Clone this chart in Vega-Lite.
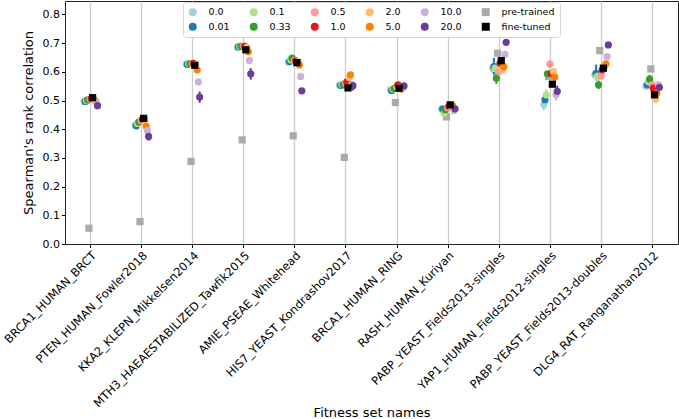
{
  "$schema": "https://vega.github.io/schema/vega-lite/v6.json",
  "width": 613,
  "height": 243,
  "autosize": {"type": "none"},
  "padding": {"left": 65, "top": 1, "right": 1, "bottom": 175},
  "config": {
    "font": "DejaVu Sans",
    "view": {"stroke": "#222", "strokeWidth": 1},
    "axis": {"labelFont": "DejaVu Sans", "titleFont": "DejaVu Sans", "labelFontSize": 11, "titleFontSize": 13, "titleFontWeight": "normal", "labelColor": "#000", "titleColor": "#000", "tickColor": "#000", "tickSize": 3.5, "domain": false, "labelLimit": 400},
    "legend": {"labelFont": "DejaVu Sans", "labelFontSize": 9.5, "labelColor": "#000"}
  },
  "data": {"values": [
    {"s":"BRCA1_HUMAN_BRCT","l":"pre-trained","v":0.055},
    {"s":"BRCA1_HUMAN_BRCT","l":"0.0","v":0.497,"lo":0.492,"hi":0.502},
    {"s":"BRCA1_HUMAN_BRCT","l":"0.01","v":0.497,"lo":0.492,"hi":0.502},
    {"s":"BRCA1_HUMAN_BRCT","l":"0.1","v":0.500,"lo":0.495,"hi":0.505},
    {"s":"BRCA1_HUMAN_BRCT","l":"0.33","v":0.502,"lo":0.497,"hi":0.507},
    {"s":"BRCA1_HUMAN_BRCT","l":"0.5","v":0.505,"lo":0.500,"hi":0.510},
    {"s":"BRCA1_HUMAN_BRCT","l":"1.0","v":0.507,"lo":0.502,"hi":0.512},
    {"s":"BRCA1_HUMAN_BRCT","l":"2.0","v":0.506,"lo":0.501,"hi":0.511},
    {"s":"BRCA1_HUMAN_BRCT","l":"5.0","v":0.500,"lo":0.495,"hi":0.505},
    {"s":"BRCA1_HUMAN_BRCT","l":"10.0","v":0.495,"lo":0.490,"hi":0.500},
    {"s":"BRCA1_HUMAN_BRCT","l":"20.0","v":0.482,"lo":0.474,"hi":0.490},
    {"s":"BRCA1_HUMAN_BRCT","l":"fine-tuned","v":0.510},

    {"s":"PTEN_HUMAN_Fowler2018","l":"pre-trained","v":0.078},
    {"s":"PTEN_HUMAN_Fowler2018","l":"0.0","v":0.415,"lo":0.410,"hi":0.420},
    {"s":"PTEN_HUMAN_Fowler2018","l":"0.01","v":0.412,"lo":0.407,"hi":0.417},
    {"s":"PTEN_HUMAN_Fowler2018","l":"0.1","v":0.420,"lo":0.415,"hi":0.425},
    {"s":"PTEN_HUMAN_Fowler2018","l":"0.33","v":0.425,"lo":0.420,"hi":0.430},
    {"s":"PTEN_HUMAN_Fowler2018","l":"0.5","v":0.430,"lo":0.425,"hi":0.435},
    {"s":"PTEN_HUMAN_Fowler2018","l":"1.0","v":0.435,"lo":0.430,"hi":0.440},
    {"s":"PTEN_HUMAN_Fowler2018","l":"2.0","v":0.432,"lo":0.427,"hi":0.437},
    {"s":"PTEN_HUMAN_Fowler2018","l":"5.0","v":0.410,"lo":0.405,"hi":0.415},
    {"s":"PTEN_HUMAN_Fowler2018","l":"10.0","v":0.396,"lo":0.388,"hi":0.404},
    {"s":"PTEN_HUMAN_Fowler2018","l":"20.0","v":0.375,"lo":0.360,"hi":0.390},
    {"s":"PTEN_HUMAN_Fowler2018","l":"fine-tuned","v":0.438},

    {"s":"KKA2_KLEPN_Mikkelsen2014","l":"pre-trained","v":0.288},
    {"s":"KKA2_KLEPN_Mikkelsen2014","l":"0.0","v":0.627,"lo":0.622,"hi":0.632},
    {"s":"KKA2_KLEPN_Mikkelsen2014","l":"0.01","v":0.626,"lo":0.621,"hi":0.631},
    {"s":"KKA2_KLEPN_Mikkelsen2014","l":"0.1","v":0.628,"lo":0.623,"hi":0.633},
    {"s":"KKA2_KLEPN_Mikkelsen2014","l":"0.33","v":0.629,"lo":0.624,"hi":0.634},
    {"s":"KKA2_KLEPN_Mikkelsen2014","l":"0.5","v":0.630,"lo":0.625,"hi":0.635},
    {"s":"KKA2_KLEPN_Mikkelsen2014","l":"1.0","v":0.630,"lo":0.625,"hi":0.635},
    {"s":"KKA2_KLEPN_Mikkelsen2014","l":"2.0","v":0.625,"lo":0.620,"hi":0.630},
    {"s":"KKA2_KLEPN_Mikkelsen2014","l":"5.0","v":0.607,"lo":0.602,"hi":0.612},
    {"s":"KKA2_KLEPN_Mikkelsen2014","l":"10.0","v":0.565,"lo":0.555,"hi":0.575},
    {"s":"KKA2_KLEPN_Mikkelsen2014","l":"20.0","v":0.512,"lo":0.492,"hi":0.532},
    {"s":"KKA2_KLEPN_Mikkelsen2014","l":"fine-tuned","v":0.623},

    {"s":"MTH3_HAEAESTABILIZED_Tawfik2015","l":"pre-trained","v":0.363},
    {"s":"MTH3_HAEAESTABILIZED_Tawfik2015","l":"0.0","v":0.686,"lo":0.681,"hi":0.691},
    {"s":"MTH3_HAEAESTABILIZED_Tawfik2015","l":"0.01","v":0.687,"lo":0.682,"hi":0.692},
    {"s":"MTH3_HAEAESTABILIZED_Tawfik2015","l":"0.1","v":0.688,"lo":0.683,"hi":0.693},
    {"s":"MTH3_HAEAESTABILIZED_Tawfik2015","l":"0.33","v":0.689,"lo":0.684,"hi":0.694},
    {"s":"MTH3_HAEAESTABILIZED_Tawfik2015","l":"0.5","v":0.690,"lo":0.685,"hi":0.695},
    {"s":"MTH3_HAEAESTABILIZED_Tawfik2015","l":"1.0","v":0.689,"lo":0.684,"hi":0.694},
    {"s":"MTH3_HAEAESTABILIZED_Tawfik2015","l":"2.0","v":0.685,"lo":0.680,"hi":0.690},
    {"s":"MTH3_HAEAESTABILIZED_Tawfik2015","l":"5.0","v":0.670,"lo":0.665,"hi":0.675},
    {"s":"MTH3_HAEAESTABILIZED_Tawfik2015","l":"10.0","v":0.640,"lo":0.630,"hi":0.650},
    {"s":"MTH3_HAEAESTABILIZED_Tawfik2015","l":"20.0","v":0.593,"lo":0.573,"hi":0.613},
    {"s":"MTH3_HAEAESTABILIZED_Tawfik2015","l":"fine-tuned","v":0.677},

    {"s":"AMIE_PSEAE_Whitehead","l":"pre-trained","v":0.377},
    {"s":"AMIE_PSEAE_Whitehead","l":"0.0","v":0.634,"lo":0.629,"hi":0.639},
    {"s":"AMIE_PSEAE_Whitehead","l":"0.01","v":0.636,"lo":0.631,"hi":0.641},
    {"s":"AMIE_PSEAE_Whitehead","l":"0.1","v":0.642,"lo":0.637,"hi":0.647},
    {"s":"AMIE_PSEAE_Whitehead","l":"0.33","v":0.648,"lo":0.643,"hi":0.653},
    {"s":"AMIE_PSEAE_Whitehead","l":"0.5","v":0.640,"lo":0.635,"hi":0.645},
    {"s":"AMIE_PSEAE_Whitehead","l":"1.0","v":0.638,"lo":0.633,"hi":0.643},
    {"s":"AMIE_PSEAE_Whitehead","l":"2.0","v":0.636,"lo":0.631,"hi":0.641},
    {"s":"AMIE_PSEAE_Whitehead","l":"5.0","v":0.624,"lo":0.619,"hi":0.629},
    {"s":"AMIE_PSEAE_Whitehead","l":"10.0","v":0.584,"lo":0.577,"hi":0.591},
    {"s":"AMIE_PSEAE_Whitehead","l":"20.0","v":0.534,"lo":0.528,"hi":0.540},
    {"s":"AMIE_PSEAE_Whitehead","l":"fine-tuned","v":0.632},

    {"s":"HIS7_YEAST_Kondrashov2017","l":"pre-trained","v":0.302},
    {"s":"HIS7_YEAST_Kondrashov2017","l":"0.0","v":0.553,"lo":0.548,"hi":0.558},
    {"s":"HIS7_YEAST_Kondrashov2017","l":"0.01","v":0.553,"lo":0.548,"hi":0.558},
    {"s":"HIS7_YEAST_Kondrashov2017","l":"0.1","v":0.556,"lo":0.551,"hi":0.561},
    {"s":"HIS7_YEAST_Kondrashov2017","l":"0.33","v":0.555,"lo":0.548,"hi":0.562},
    {"s":"HIS7_YEAST_Kondrashov2017","l":"0.5","v":0.560,"lo":0.555,"hi":0.565},
    {"s":"HIS7_YEAST_Kondrashov2017","l":"1.0","v":0.565,"lo":0.560,"hi":0.570},
    {"s":"HIS7_YEAST_Kondrashov2017","l":"2.0","v":0.580,"lo":0.573,"hi":0.587},
    {"s":"HIS7_YEAST_Kondrashov2017","l":"5.0","v":0.590,"lo":0.582,"hi":0.598},
    {"s":"HIS7_YEAST_Kondrashov2017","l":"10.0","v":0.556,"lo":0.548,"hi":0.564},
    {"s":"HIS7_YEAST_Kondrashov2017","l":"20.0","v":0.552,"lo":0.535,"hi":0.566},
    {"s":"HIS7_YEAST_Kondrashov2017","l":"fine-tuned","v":0.544},

    {"s":"BRCA1_HUMAN_RING","l":"pre-trained","v":0.493},
    {"s":"BRCA1_HUMAN_RING","l":"0.0","v":0.538,"lo":0.533,"hi":0.543},
    {"s":"BRCA1_HUMAN_RING","l":"0.01","v":0.535,"lo":0.530,"hi":0.540},
    {"s":"BRCA1_HUMAN_RING","l":"0.1","v":0.540,"lo":0.535,"hi":0.545},
    {"s":"BRCA1_HUMAN_RING","l":"0.33","v":0.542,"lo":0.535,"hi":0.549},
    {"s":"BRCA1_HUMAN_RING","l":"0.5","v":0.548,"lo":0.543,"hi":0.553},
    {"s":"BRCA1_HUMAN_RING","l":"1.0","v":0.555,"lo":0.550,"hi":0.560},
    {"s":"BRCA1_HUMAN_RING","l":"2.0","v":0.545,"lo":0.540,"hi":0.550},
    {"s":"BRCA1_HUMAN_RING","l":"5.0","v":0.540,"lo":0.535,"hi":0.545},
    {"s":"BRCA1_HUMAN_RING","l":"10.0","v":0.544,"lo":0.539,"hi":0.549},
    {"s":"BRCA1_HUMAN_RING","l":"20.0","v":0.551,"lo":0.546,"hi":0.556},
    {"s":"BRCA1_HUMAN_RING","l":"fine-tuned","v":0.543},

    {"s":"RASH_HUMAN_Kuriyan","l":"pre-trained","v":0.443},
    {"s":"RASH_HUMAN_Kuriyan","l":"0.0","v":0.472,"lo":0.467,"hi":0.477},
    {"s":"RASH_HUMAN_Kuriyan","l":"0.01","v":0.470,"lo":0.465,"hi":0.475},
    {"s":"RASH_HUMAN_Kuriyan","l":"0.1","v":0.456,"lo":0.450,"hi":0.462},
    {"s":"RASH_HUMAN_Kuriyan","l":"0.33","v":0.468,"lo":0.463,"hi":0.473},
    {"s":"RASH_HUMAN_Kuriyan","l":"0.5","v":0.475,"lo":0.470,"hi":0.480},
    {"s":"RASH_HUMAN_Kuriyan","l":"1.0","v":0.480,"lo":0.475,"hi":0.485},
    {"s":"RASH_HUMAN_Kuriyan","l":"2.0","v":0.478,"lo":0.473,"hi":0.483},
    {"s":"RASH_HUMAN_Kuriyan","l":"5.0","v":0.482,"lo":0.477,"hi":0.487},
    {"s":"RASH_HUMAN_Kuriyan","l":"10.0","v":0.465,"lo":0.460,"hi":0.470},
    {"s":"RASH_HUMAN_Kuriyan","l":"20.0","v":0.471,"lo":0.466,"hi":0.476},
    {"s":"RASH_HUMAN_Kuriyan","l":"fine-tuned","v":0.485},

    {"s":"PABP_YEAST_Fields2013-singles","l":"pre-trained","v":0.665},
    {"s":"PABP_YEAST_Fields2013-singles","l":"0.0","v":0.612,"lo":0.595,"hi":0.629},
    {"s":"PABP_YEAST_Fields2013-singles","l":"0.01","v":0.618,"lo":0.590,"hi":0.649},
    {"s":"PABP_YEAST_Fields2013-singles","l":"0.1","v":0.613,"lo":0.603,"hi":0.623},
    {"s":"PABP_YEAST_Fields2013-singles","l":"0.33","v":0.578,"lo":0.558,"hi":0.598},
    {"s":"PABP_YEAST_Fields2013-singles","l":"0.5","v":0.601,"lo":0.591,"hi":0.611},
    {"s":"PABP_YEAST_Fields2013-singles","l":"1.0","v":0.630,"lo":0.620,"hi":0.640},
    {"s":"PABP_YEAST_Fields2013-singles","l":"2.0","v":0.607,"lo":0.597,"hi":0.617},
    {"s":"PABP_YEAST_Fields2013-singles","l":"5.0","v":0.618,"lo":0.610,"hi":0.626},
    {"s":"PABP_YEAST_Fields2013-singles","l":"10.0","v":0.661,"lo":0.654,"hi":0.668},
    {"s":"PABP_YEAST_Fields2013-singles","l":"20.0","v":0.703,"lo":0.698,"hi":0.708},
    {"s":"PABP_YEAST_Fields2013-singles","l":"fine-tuned","v":0.639},

    {"s":"YAP1_HUMAN_Fields2012-singles","l":"pre-trained","v":0.584},
    {"s":"YAP1_HUMAN_Fields2012-singles","l":"0.0","v":0.485,"lo":0.465,"hi":0.505},
    {"s":"YAP1_HUMAN_Fields2012-singles","l":"0.01","v":0.503,"lo":0.483,"hi":0.523},
    {"s":"YAP1_HUMAN_Fields2012-singles","l":"0.1","v":0.520,"lo":0.500,"hi":0.540},
    {"s":"YAP1_HUMAN_Fields2012-singles","l":"0.33","v":0.593,"lo":0.583,"hi":0.603},
    {"s":"YAP1_HUMAN_Fields2012-singles","l":"0.5","v":0.627,"lo":0.612,"hi":0.642},
    {"s":"YAP1_HUMAN_Fields2012-singles","l":"1.0","v":0.595,"lo":0.585,"hi":0.605},
    {"s":"YAP1_HUMAN_Fields2012-singles","l":"2.0","v":0.601,"lo":0.591,"hi":0.611},
    {"s":"YAP1_HUMAN_Fields2012-singles","l":"5.0","v":0.582,"lo":0.572,"hi":0.592},
    {"s":"YAP1_HUMAN_Fields2012-singles","l":"10.0","v":0.520,"lo":0.500,"hi":0.540},
    {"s":"YAP1_HUMAN_Fields2012-singles","l":"20.0","v":0.532,"lo":0.512,"hi":0.552},
    {"s":"YAP1_HUMAN_Fields2012-singles","l":"fine-tuned","v":0.557},

    {"s":"PABP_YEAST_Fields2013-doubles","l":"pre-trained","v":0.674},
    {"s":"PABP_YEAST_Fields2013-doubles","l":"0.0","v":0.590,"lo":0.580,"hi":0.600},
    {"s":"PABP_YEAST_Fields2013-doubles","l":"0.01","v":0.595,"lo":0.570,"hi":0.625},
    {"s":"PABP_YEAST_Fields2013-doubles","l":"0.1","v":0.584,"lo":0.574,"hi":0.594},
    {"s":"PABP_YEAST_Fields2013-doubles","l":"0.33","v":0.555,"lo":0.540,"hi":0.570},
    {"s":"PABP_YEAST_Fields2013-doubles","l":"0.5","v":0.586,"lo":0.576,"hi":0.596},
    {"s":"PABP_YEAST_Fields2013-doubles","l":"1.0","v":0.607,"lo":0.597,"hi":0.617},
    {"s":"PABP_YEAST_Fields2013-doubles","l":"2.0","v":0.618,"lo":0.608,"hi":0.628},
    {"s":"PABP_YEAST_Fields2013-doubles","l":"5.0","v":0.628,"lo":0.620,"hi":0.636},
    {"s":"PABP_YEAST_Fields2013-doubles","l":"10.0","v":0.653,"lo":0.646,"hi":0.660},
    {"s":"PABP_YEAST_Fields2013-doubles","l":"20.0","v":0.694,"lo":0.689,"hi":0.699},
    {"s":"PABP_YEAST_Fields2013-doubles","l":"fine-tuned","v":0.613},

    {"s":"DLG4_RAT_Ranganathan2012","l":"pre-trained","v":0.610},
    {"s":"DLG4_RAT_Ranganathan2012","l":"0.0","v":0.550,"lo":0.545,"hi":0.555},
    {"s":"DLG4_RAT_Ranganathan2012","l":"0.01","v":0.555,"lo":0.548,"hi":0.562},
    {"s":"DLG4_RAT_Ranganathan2012","l":"0.1","v":0.566,"lo":0.559,"hi":0.573},
    {"s":"DLG4_RAT_Ranganathan2012","l":"0.33","v":0.575,"lo":0.560,"hi":0.590},
    {"s":"DLG4_RAT_Ranganathan2012","l":"0.5","v":0.555,"lo":0.548,"hi":0.562},
    {"s":"DLG4_RAT_Ranganathan2012","l":"1.0","v":0.543,"lo":0.536,"hi":0.550},
    {"s":"DLG4_RAT_Ranganathan2012","l":"2.0","v":0.505,"lo":0.490,"hi":0.520},
    {"s":"DLG4_RAT_Ranganathan2012","l":"5.0","v":0.526,"lo":0.518,"hi":0.534},
    {"s":"DLG4_RAT_Ranganathan2012","l":"10.0","v":0.555,"lo":0.545,"hi":0.565},
    {"s":"DLG4_RAT_Ranganathan2012","l":"20.0","v":0.546,"lo":0.540,"hi":0.552},
    {"s":"DLG4_RAT_Ranganathan2012","l":"fine-tuned","v":0.520}
  ]},
  "encoding": {
    "x": {"field": "s", "type": "nominal", "sort": null,
      "scale": {"type": "band", "paddingInner": 0, "paddingOuter": 0},
      "axis": {"title": "Fitness set names", "labelAngle": -45, "labelAlign": "right", "labelBaseline": "top", "labelPadding": 2, "labelFontSize": 11.5,
        "grid": true, "gridColor": "#cccccc", "gridWidth": 1.3, "bandPosition": 0.5, "titleY": 172, "titleBaseline": "alphabetic"}},
    "xOffset": {"field": "l", "type": "nominal",
      "scale": {"domain": ["0.0","0.01","0.1","0.33","pre-trained","0.5","1.0","fine-tuned","2.0","5.0","10.0","20.0"], "range": [18.4, 33.1], "paddingInner": 0, "paddingOuter": 0}},
    "color": {"field": "l", "type": "nominal",
      "scale": {"domain": ["0.0","0.1","0.5","2.0","10.0","pre-trained","0.01","0.33","1.0","5.0","20.0","fine-tuned"],
        "range": ["#a6cee3","#b2df8a","#fb9a99","#fdbf6f","#cab2d6","#aaaaaa","#1f78b4","#33a02c","#e31a1c","#ff7f00","#6a3d9a","#000000"]},
      "legend": {"title": null, "orient": "none", "legendX": 118, "legendY": 1, "columns": 6, "direction": "horizontal",
        "columnPadding": 19, "rowPadding": 4, "labelOffset": 11, "symbolSize": 64, "padding": 5,
        "strokeColor": "#d6d6d6", "fillColor": "#ffffff", "cornerRadius": 3, "symbolStrokeWidth": 0}}
  },
  "layer": [
    {
      "transform": [{"filter": "isValid(datum.lo)"}],
      "mark": {"type": "rule", "strokeWidth": 2},
      "encoding": {
        "y": {"field": "lo", "type": "quantitative",
          "scale": {"domain": [0, 0.847], "nice": false, "zero": false},
          "axis": {"title": "Spearman's rank correlation", "values": [0,0.1,0.2,0.3,0.4,0.5,0.6,0.7,0.8], "format": ".1f", "grid": false, "labelOverlap": false, "titleX": -33, "titleBaseline": "alphabetic"}},
        "y2": {"field": "hi"}
      }
    },
    {
      "mark": {"type": "point", "filled": true, "opacity": 1, "size": 52},
      "encoding": {
        "y": {"field": "v", "type": "quantitative",
          "scale": {"domain": [0, 0.847], "nice": false, "zero": false},
          "axis": {"title": "Spearman's rank correlation", "values": [0,0.1,0.2,0.3,0.4,0.5,0.6,0.7,0.8], "format": ".1f", "grid": false, "labelOverlap": false, "titleX": -33, "titleBaseline": "alphabetic"}},
        "shape": {"field": "l", "type": "nominal",
          "scale": {"domain": ["0.0","0.1","0.5","2.0","10.0","pre-trained","0.01","0.33","1.0","5.0","20.0","fine-tuned"],
            "range": ["circle","circle","circle","circle","circle","square","circle","circle","circle","circle","circle","square"]}}
      }
    }
  ]
}
